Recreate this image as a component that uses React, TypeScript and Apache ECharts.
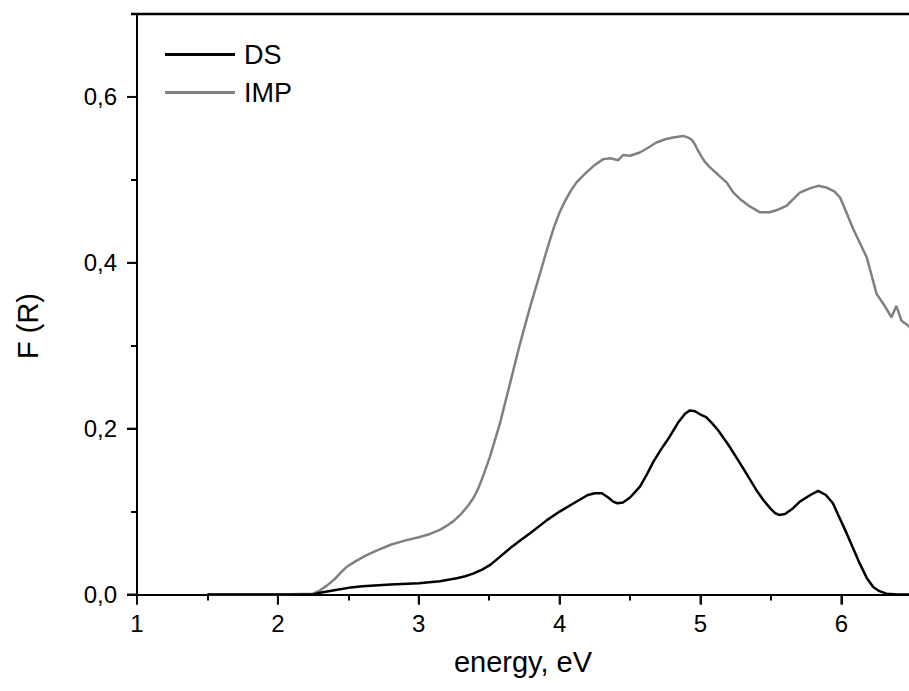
import React, { useEffect, useRef } from "react";
import * as echarts from "echarts";

const dsEnergy = [1.5, 2.0, 2.25, 2.3, 2.4, 2.5, 2.6, 2.8, 3.0, 3.15, 3.27, 3.33, 3.39, 3.45, 3.51, 3.58, 3.65, 3.72, 3.8, 3.91, 4.0, 4.1, 4.2, 4.25, 4.3, 4.345, 4.38, 4.41, 4.45, 4.5, 4.57, 4.62, 4.665, 4.72, 4.78, 4.84, 4.89, 4.925, 4.96, 5.0, 5.04, 5.08, 5.125, 5.2, 5.3, 5.4, 5.45, 5.5, 5.53, 5.56, 5.6, 5.65, 5.705, 5.78, 5.835, 5.89, 5.94, 5.98, 6.037, 6.08, 6.13, 6.18, 6.226, 6.27, 6.32, 6.4, 6.48];
const dsValues = [0, 0, 0, 0.002, 0.005, 0.008, 0.01, 0.012, 0.0135, 0.016, 0.0195, 0.022, 0.0255, 0.030, 0.036, 0.046, 0.056, 0.065, 0.075, 0.0897, 0.1, 0.11, 0.12, 0.122, 0.122, 0.117, 0.112, 0.11, 0.111, 0.117, 0.13, 0.145, 0.16, 0.175, 0.19, 0.207, 0.218, 0.222, 0.221, 0.217, 0.214, 0.207, 0.198, 0.18, 0.153, 0.125, 0.113, 0.103, 0.098, 0.096, 0.097, 0.103, 0.112, 0.12, 0.125, 0.12, 0.11, 0.095, 0.074, 0.057, 0.0375, 0.02, 0.009, 0.004, 0.001, 0, 0];

const impEnergy = [1.5, 2.0, 2.25, 2.3, 2.35, 2.4, 2.45, 2.49, 2.55, 2.63, 2.7, 2.8, 2.9, 3.0, 3.08, 3.15, 3.2, 3.25, 3.3, 3.35, 3.39, 3.42, 3.446, 3.47, 3.505, 3.576, 3.647, 3.718, 3.789, 3.86, 3.9, 3.93, 3.96, 4.0, 4.04, 4.08, 4.12, 4.16, 4.19, 4.25, 4.31, 4.36, 4.416, 4.45, 4.5, 4.57, 4.63, 4.687, 4.75, 4.805, 4.877, 4.913, 4.94, 4.96, 4.98, 5.0, 5.03, 5.067, 5.12, 5.185, 5.232, 5.28, 5.35, 5.42, 5.49, 5.55, 5.61, 5.705, 5.78, 5.835, 5.895, 5.95, 5.99, 6.03, 6.084, 6.18, 6.25, 6.3, 6.356, 6.39, 6.427, 6.475, 6.5];
const impValues = [0, 0, 0.001, 0.005, 0.011, 0.018, 0.027, 0.0335, 0.04, 0.0475, 0.053, 0.06, 0.065, 0.069, 0.073, 0.078, 0.083, 0.089, 0.097, 0.107, 0.117, 0.127, 0.138, 0.149, 0.166, 0.206, 0.254, 0.302, 0.346, 0.3865, 0.41, 0.4266, 0.443, 0.461, 0.475, 0.487, 0.497, 0.504, 0.509, 0.518, 0.525, 0.526, 0.5237, 0.53, 0.529, 0.533, 0.539, 0.545, 0.549, 0.551, 0.553, 0.551, 0.548, 0.543, 0.536, 0.53, 0.522, 0.515, 0.507, 0.497, 0.485, 0.477, 0.468, 0.461, 0.461, 0.464, 0.4687, 0.4847, 0.49, 0.4928, 0.4907, 0.486, 0.479, 0.463, 0.4407, 0.4065, 0.3625, 0.35, 0.3343, 0.348, 0.33, 0.324, 0.32];

const seriesNames = ["DS", "IMP"];
const xTicks = [1, 2, 3, 4, 5, 6];
const yTicks = [0, 0.2, 0.4, 0.6];
const xTitle = "energy, eV";
const yTitle = "F (R)";

const FONT = "'Liberation Sans', Arial, Helvetica, sans-serif";

export default function App() {
  const ref = useRef<HTMLDivElement>(null);

  useEffect(() => {
    document.body.style.margin = "0";
    const chart = echarts.init(ref.current!, null, { renderer: "svg" });
    const pair = (xs: number[], ys: number[]) => xs.map((x, i) => [x, ys[i]]);
    chart.setOption({
      animation: false,
      grid: { left: 137, right: 0, top: 14, bottom: 96.5, outerBoundsMode: "none" },
      legend: {
        orient: "vertical",
        left: 160,
        top: 36,
        itemWidth: 70,
        itemHeight: 28,
        itemGap: 11,
        icon: "path://M0,0 L70,0 L70,3 L0,3 Z",
        textStyle: { fontSize: 27, color: "#000", fontFamily: FONT, padding: [0, 0, 0, 4] },
        data: seriesNames,
      },
      xAxis: {
        type: "value",
        min: 1,
        max: 6.48,
        interval: 1,
        name: xTitle,
        nameLocation: "middle",
        nameGap: 53,
        nameTextStyle: { fontSize: 29, color: "#000", fontFamily: FONT },
        axisLine: { show: true, onZero: false, lineStyle: { color: "#000", width: 2 } },
        axisTick: { show: true, length: 10, customValues: xTicks, lineStyle: { color: "#000", width: 2 } },
        minorTick: { show: true, splitNumber: 2, length: 6, lineStyle: { color: "#000", width: 2 } },
        axisLabel: {
          fontSize: 24,
          color: "#000",
          margin: 17,
          fontFamily: FONT,
          customValues: xTicks,
          formatter: (v: number) => String(Math.round(v)),
        },
        splitLine: { show: false },
      },
      yAxis: {
        type: "value",
        min: 0,
        max: 0.7,
        interval: 0.2,
        axisLine: { show: true, onZero: false, lineStyle: { color: "#000", width: 2 } },
        axisTick: { show: true, length: 10, customValues: yTicks, lineStyle: { color: "#000", width: 2 } },
        minorTick: { show: true, splitNumber: 2, length: 6, lineStyle: { color: "#000", width: 2 } },
        axisLabel: {
          fontSize: 24,
          color: "#000",
          margin: 20,
          fontFamily: FONT,
          customValues: yTicks,
          formatter: (v: number) => v.toFixed(1).replace(".", ","),
        },
        splitLine: { show: false },
      },
      series: [
        {
          name: seriesNames[0],
          type: "line",
          data: pair(dsEnergy, dsValues),
          showSymbol: false,
          symbol: "none",
          smooth: false,
          z: 3,
          color: "#000000",
          lineStyle: { color: "#000000", width: 2.5 },
        },
        {
          name: seriesNames[1],
          type: "line",
          data: pair(impEnergy, impValues),
          showSymbol: false,
          symbol: "none",
          smooth: false,
          z: 2,
          color: "#808080",
          lineStyle: { color: "#808080", width: 2.5 },
        },
      ],
    });

    const xPix = (v: number) => Number(chart.convertToPixel({ xAxisIndex: 0 }, v));
    const yPix = (v: number) => Number(chart.convertToPixel({ yAxisIndex: 0 }, v));
    const x0 = xPix(1);
    const y0 = yPix(0);
    const yTop = yPix(0.7);
    const graphics: any[] = [
      {
        type: "line",
        z: 100,
        shape: { x1: x0 - 6, y1: yTop, x2: 909, y2: yTop },
        style: { stroke: "#000", lineWidth: 2.5 },
      },
      {
        type: "text",
        x: 28,
        y: 326,
        rotation: Math.PI / 2,
        style: {
          text: yTitle,
          fontSize: 29,
          fontFamily: FONT,
          fill: "#000",
          textAlign: "center",
          textVerticalAlign: "middle",
        },
      },
    ];
    xTicks.forEach((v) => {
      const px = xPix(v);
      graphics.push({
        type: "rect",
        z: 100,
        shape: { x: px - 1, y: y0, width: 2, height: 10 },
        style: { fill: "#111111" },
      });
    });
    yTicks.forEach((v) => {
      const py = yPix(v);
      graphics.push({
        type: "rect",
        z: 100,
        shape: { x: x0 - 10, y: py - 1, width: 10, height: 2 },
        style: { fill: "#111111" },
      });
    });
    chart.setOption({ graphic: graphics });

    return () => chart.dispose();
  }, []);

  return (
    <div
      ref={ref}
      style={{ position: "fixed", left: 0, top: 0, width: 909, height: 691, background: "#fff" }}
    />
  );
}
